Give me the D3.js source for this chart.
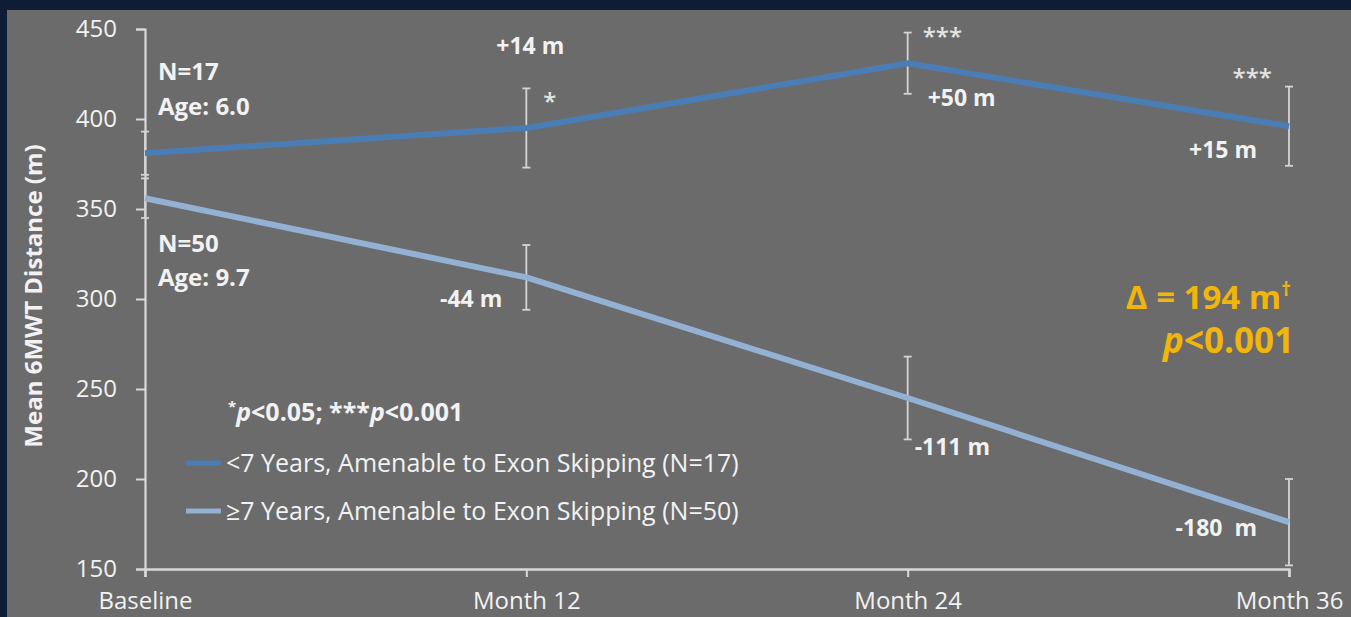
<!DOCTYPE html>
<html>
<head>
<meta charset="utf-8">
<script src="https://cdn.jsdelivr.net/npm/d3@7"></script>
<style>
  html, body { margin: 0; padding: 0; background: #0e1c36; }
  svg { display: block; }
  text { font-family: "Open Sans", "Noto Sans", sans-serif; white-space: pre; }
</style>
</head>
<body>
<svg id="chart" width="1351" height="617"></svg>
<script>
// ---------- data ----------
const categories = ["Baseline", "Month 12", "Month 24", "Month 36"];
const youngMeans = [381, 395, 431, 396];
const youngErr   = [12, 22, 17, 22];
const oldMeans   = [356, 312, 245, 176];
const oldErr     = [11, 18, 23, 24];
const yTicks     = [150, 200, 250, 300, 350, 400, 450];
const youngChange = ["", "+14 m", "+50 m", "+15 m"];
const youngSig    = ["", "*", "***", "***"];
const oldChange   = ["", "-44 m", "-111 m", "-180  m"];
const seriesNames = ["<7 Years, Amenable to Exon Skipping (N=17)", "\u22657 Years, Amenable to Exon Skipping (N=50)"];
const groupInfo   = [["N=17", "Age: 6.0"], ["N=50", "Age: 9.7"]];

// ---------- setup ----------
const svg = d3.select("#chart");
const W = 1351, H = 617;
const bg = "#6b6b6b", axisCol = "#d9d9d9", textCol = "#f2f2f2";
const c1 = "#4a7db4", c2 = "#93b1d3", gold = "#f2b50a";

svg.append("rect").attr("x", 0).attr("y", 0).attr("width", W).attr("height", H).attr("fill", "#0e1c36");
svg.append("rect").attr("x", 7).attr("y", 10).attr("width", W - 7).attr("height", H - 10).attr("fill", bg);

const x = d3.scalePoint().domain(categories).range([145, 1289]);
const y = d3.scaleLinear().domain([150, 450]).range([569, 29]);

// ---------- axes ----------
const yAxis = svg.append("g").attr("transform", "translate(145,0)")
  .call(d3.axisLeft(y).tickValues(yTicks).tickSize(9).tickPadding(19));
yAxis.select(".domain").attr("stroke", axisCol).attr("stroke-width", 2.2);
yAxis.selectAll(".tick line").attr("stroke", axisCol).attr("stroke-width", 2);
yAxis.selectAll(".tick text").attr("fill", textCol).attr("font-size", 24)
  .attr("font-family", "Open Sans").attr("dy", "0.33em");

const xAxis = svg.append("g").attr("transform", "translate(0,569)")
  .call(d3.axisBottom(x).tickSize(8).tickPadding(15));
xAxis.select(".domain").attr("stroke", axisCol).attr("stroke-width", 2.5);
xAxis.selectAll(".tick line").attr("stroke", axisCol).attr("stroke-width", 2);
xAxis.selectAll(".tick text").attr("fill", textCol).attr("font-size", 24)
  .attr("font-family", "Open Sans");

svg.append("text")
  .attr("transform", "translate(42,296) rotate(-90)")
  .attr("text-anchor", "middle")
  .attr("fill", textCol).attr("font-size", 24).attr("font-weight", "bold")
  .text("Mean 6MWT Distance (m)");

// ---------- error bars ----------
function errBars(means, errs, cls) {
  const g = svg.append("g").attr("class", cls);
  const d = categories.map((c, i) => ({ c, m: means[i], e: errs[i] }));
  g.selectAll("line.v").data(d).join("line").attr("class", "v")
    .attr("x1", d => x(d.c)).attr("x2", d => x(d.c))
    .attr("y1", d => y(d.m + d.e)).attr("y2", d => y(d.m - d.e))
    .attr("stroke", "#d4d4d4").attr("stroke-width", 1.8);
  ["top", "bot"].forEach(k => {
    g.selectAll("line." + k).data(d).join("line").attr("class", k)
      .attr("x1", d => x(d.c) - 4).attr("x2", d => x(d.c) + 4)
      .attr("y1", d => y(k === "top" ? d.m + d.e : d.m - d.e))
      .attr("y2", d => y(k === "top" ? d.m + d.e : d.m - d.e))
      .attr("stroke", "#d4d4d4").attr("stroke-width", 1.8);
  });
}
errBars(youngMeans, youngErr, "err1");
errBars(oldMeans, oldErr, "err2");

// ---------- lines ----------
const line = d3.line().x((d, i) => x(categories[i])).y(d => y(d));
svg.append("path").datum(oldMeans).attr("d", line)
  .attr("fill", "none").attr("stroke", c2).attr("stroke-width", 6).attr("stroke-linejoin", "round");
svg.append("path").datum(youngMeans).attr("d", line)
  .attr("fill", "none").attr("stroke", c1).attr("stroke-width", 6).attr("stroke-linejoin", "round");

// ---------- annotations ----------
function label(txt, px, py, opts = {}) {
  return svg.append("text").attr("x", px).attr("y", py)
    .attr("fill", opts.fill || textCol)
    .attr("font-size", opts.size || 23)
    .attr("font-weight", opts.weight || "bold")
    .attr("text-anchor", opts.anchor || "start")
    .text(txt);
}
// group info
label(groupInfo[0][0], 158, 80, { size: 24 });
label(groupInfo[0][1], 158, 115, { size: 24 });
label(groupInfo[1][0], 158, 252, { size: 24 });
label(groupInfo[1][1], 158, 286, { size: 24 });

// young series: change labels (offset from point)
const yChangeOff = [null, [4, -74], [20, 43], [-32, 32]];
const yAnchor = [null, "middle", "start", "end"];
categories.forEach((c, i) => {
  if (!youngChange[i]) return;
  label(youngChange[i], x(c) + yChangeOff[i][0], y(youngMeans[i]) + yChangeOff[i][1], { anchor: yAnchor[i] });
});
// significance marks
const sigOff = [null, [17, -18], [15, -18], [-17, -40]];
const sigAnchor = [null, "start", "start", "end"];
categories.forEach((c, i) => {
  if (!youngSig[i]) return;
  label(youngSig[i], x(c) + sigOff[i][0], y(youngMeans[i]) + sigOff[i][1],
    { anchor: sigAnchor[i], size: 24, weight: 600, fill: "#e4e4e4" });
});

// old series change labels
const oChangeOff = [null, [-24, 30], [7, 57], [-32, 14]];
const oAnchor = [null, "end", "start", "end"];
categories.forEach((c, i) => {
  if (!oldChange[i]) return;
  label(oldChange[i], x(c) + oChangeOff[i][0], y(oldMeans[i]) + oChangeOff[i][1], { anchor: oAnchor[i] });
});

// significance footnote
const fn = svg.append("text").attr("x", 228).attr("y", 421)
  .attr("fill", textCol).attr("font-size", 25).attr("font-weight", "bold");
fn.append("tspan").attr("font-size", 15).attr("dy", -9).text("*");
fn.append("tspan").attr("font-style", "italic").attr("dy", 9).text("p");
fn.append("tspan").text("<0.05; ***");
fn.append("tspan").attr("font-style", "italic").text("p");
fn.append("tspan").text("<0.001");

// legend
const legY = [463, 511];
[c1, c2].forEach((col, i) => {
  svg.append("line").attr("x1", 186).attr("x2", 221).attr("y1", legY[i]).attr("y2", legY[i])
    .attr("stroke", col).attr("stroke-width", 5);
  svg.append("text").attr("x", 226).attr("y", legY[i]).attr("dy", "0.36em")
    .attr("fill", textCol).attr("font-size", 25).text(seriesNames[i]);
});

// delta annotation
const d1 = svg.append("text").attr("x", 1291).attr("y", 309).attr("text-anchor", "end")
  .attr("fill", gold).attr("font-size", 33).attr("font-weight", "bold");
d1.append("tspan").text("\u0394 = 194 m");
d1.append("tspan").attr("font-size", 19).attr("dy", -13).text("\u2020");
const d2 = svg.append("text").attr("x", 1294).attr("y", 353).attr("text-anchor", "end")
  .attr("fill", gold).attr("font-size", 35).attr("font-weight", "bold");
d2.append("tspan").attr("font-style", "italic").text("p");
d2.append("tspan").text("<0.001");
</script>
</body>
</html>
